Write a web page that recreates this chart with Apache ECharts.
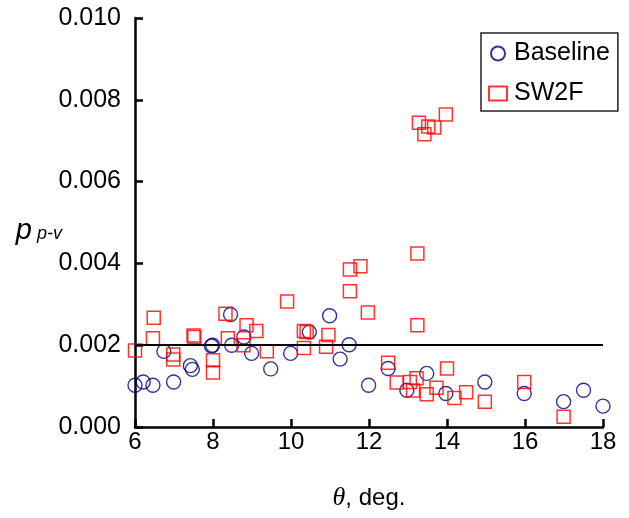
<!DOCTYPE html>
<html>
<head>
<meta charset="utf-8">
<script src="https://cdn.jsdelivr.net/npm/echarts@6/dist/echarts.min.js"></script>
<style>html,body{margin:0;padding:0;background:#fff}#c{width:629px;height:518px}</style>
</head>
<body>
<div id="c"></div>
<script>
// x: theta (deg), y: p_p-v
const baselineX = [6.0, 6.21, 6.46, 6.74, 6.99, 7.42, 7.47, 7.96, 7.99, 8.45, 8.48, 8.79, 8.99, 9.48, 9.99, 10.47, 10.99, 11.26, 11.49, 11.99, 12.49, 12.97, 13.48, 13.97, 14.97, 15.98, 16.99, 17.5, 18.0];
const baselineY = [0.00102, 0.0011, 0.00102, 0.00185, 0.0011, 0.0015, 0.00141, 0.00198, 0.002, 0.00275, 0.002, 0.0022, 0.0018, 0.00142, 0.0018, 0.00232, 0.00272, 0.00166, 0.00201, 0.00102, 0.00143, 0.0009, 0.00131, 0.00082, 0.0011, 0.00082, 0.00062, 0.0009, 0.00051];
const sw2fX = [6.0, 6.48, 6.46, 6.98, 6.98, 7.5, 7.52, 8.0, 8.0, 8.32, 8.38, 8.86, 8.78, 9.11, 9.38, 9.9, 10.33, 10.33, 10.4, 10.9, 10.96, 11.51, 11.51, 11.78, 11.97, 12.49, 12.71, 13.05, 13.22, 13.13, 13.24, 13.24, 13.28, 13.42, 13.52, 13.67, 13.97, 13.48, 13.73, 14.0, 14.19, 14.49, 14.97, 15.98, 16.99];
const sw2fY = [0.00187, 0.00267, 0.00217, 0.00177, 0.00165, 0.00224, 0.0022, 0.00163, 0.00133, 0.00277, 0.00217, 0.00249, 0.002, 0.00235, 0.00185, 0.00307, 0.00193, 0.00235, 0.00232, 0.00196, 0.00225, 0.00385, 0.00332, 0.00393, 0.0028, 0.00157, 0.00109, 0.0011, 0.00119, 0.00089, 0.00424, 0.00249, 0.00744, 0.00716, 0.00735, 0.00732, 0.00764, 0.0008, 0.00096, 0.00143, 0.00071, 0.00085, 0.00062, 0.0011, 0.00025];
const seriesNames = ['Baseline', 'SW2F'];
const thresholdY = [0.002];
const xRange = [6, 18];

const zip = (xs, ys) => xs.map((x, i) => [x, ys[i]]);
const font = 'Arial, "Liberation Sans", sans-serif';
const chart = echarts.init(document.getElementById('c'), null, {renderer: 'canvas'});
chart.setOption({
  animation: false,
  backgroundColor: '#fff',
  grid: {left: 135, right: 26, top: 18, bottom: 91, containLabel: false, outerBoundsMode: 'none'},
  xAxis: {
    type: 'value', min: 6, max: 18, interval: 2,
    name: '{t|θ}{n|, deg.}', nameLocation: 'middle', nameGap: 58,
    nameTextStyle: {rich: {
      t: {fontFamily: '"Liberation Serif", "DejaVu Serif", serif', fontStyle: 'italic', fontSize: 26, color: '#000'},
      n: {fontFamily: font, fontSize: 24, color: '#000'}
    }},
    axisLine: {lineStyle: {color: '#000', width: 2.5}},
    axisTick: {inside: true, length: 8, lineStyle: {color: '#000', width: 2.5}},
    axisLabel: {fontFamily: font, fontSize: 24, color: '#000', margin: 3},
    splitLine: {show: false}
  },
  yAxis: {
    type: 'value', min: 0, max: 0.01, interval: 0.002,
    name: '{p|p}{s| p-v}', nameLocation: 'middle', nameRotate: 0, nameGap: 73,
    nameMoveOverlap: false,
    nameTextStyle: {padding: [16, 0, 0, 0], rich: {
      p: {fontFamily: font, fontStyle: 'italic', fontSize: 29, color: '#000'},
      s: {fontFamily: font, fontStyle: 'italic', fontSize: 18, color: '#000', padding: [6, 0, 0, 0]}
    }},
    axisLine: {show: true, lineStyle: {color: '#000', width: 2.5}},
    axisTick: {show: true, inside: true, length: 8, lineStyle: {color: '#000', width: 2.5}},
    axisLabel: {fontFamily: font, fontSize: 25, color: '#000', margin: 14, formatter: v => v.toFixed(3)},
    splitLine: {show: false}
  },
  legend: {
    orient: 'vertical', left: 481, top: 33,
    data: seriesNames,
    borderColor: '#222', borderWidth: 1.5,
    padding: [8, 8, 5, 7], itemGap: 15,
    itemWidth: 18, itemHeight: 14,
    textStyle: {fontFamily: font, fontSize: 25, color: '#000', lineHeight: 24, padding: [0, 0, 0, 2]}
  },
  series: [
    {
      name: seriesNames[0], type: 'scatter', symbol: 'circle', symbolSize: 14,
      data: zip(baselineX, baselineY),
      itemStyle: {color: 'rgba(0,0,0,0)', borderColor: '#000080', borderWidth: 1.4},
      markLine: {
        silent: true, symbol: ['none', 'none'], label: {show: false},
        lineStyle: {color: '#000', width: 2, type: 'solid'},
        data: [[{coord: [xRange[0], thresholdY[0]]}, {coord: [xRange[1], thresholdY[0]]}]]
      },
      z: 3
    },
    {
      name: seriesNames[1], type: 'scatter', symbol: 'rect', symbolSize: 13,
      data: zip(sw2fX, sw2fY),
      itemStyle: {color: 'rgba(0,0,0,0)', borderColor: '#ff0000', borderWidth: 1.5},
      z: 4
    }
  ]
});
</script>
</body>
</html>
